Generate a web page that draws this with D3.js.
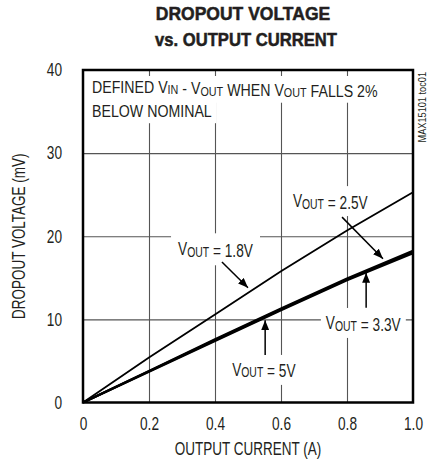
<!DOCTYPE html>
<html>
<head>
<meta charset="utf-8">
<script src="https://cdn.jsdelivr.net/npm/d3@7"></script>
<style>
  body { margin: 0; background: #fff; }
  svg text { font-family: "Liberation Sans", Arial, sans-serif; fill: #231f20; }
  .title { font-weight: bold; font-size: 17.5px; stroke: #231f20; stroke-width: 0.5; }
  .tick text { font-size: 18px; }
  .label { font-size: 18px; }
  .note { font-size: 18.5px; }
  .top { font-size: 16.5px; }
  .grid line { stroke: #555; stroke-width: 1.1; }
  .grid .domain { display: none; }
  .axis .domain { display: none; }
</style>
</head>
<body>
<svg width="427" height="464"></svg>
<script>
// output current (A)
const current = [0, 0.2, 0.4, 0.6, 0.8, 1.0];
// dropout voltage (mV) for each VOUT
const vout18 = [0, 5.4, 10.6, 15.8, 20.7, 25.3];
const vout25 = [0, 3.8, 7.6, 11.3, 14.9, 18.25];
const vout33 = [0, 3.75, 7.5, 11.2, 14.8, 18.1];
const vout5 = [0, 3.7, 7.4, 11.1, 14.7, 17.95];

const xTicks = [0, 0.2, 0.4, 0.6, 0.8, 1.0];
const yTicks = [0, 10, 20, 30, 40];

const svg = d3.select('svg');

const margin = { top: 70, left: 83 };
const width = 330;
const height = 332.5;

// squeeze a text sideways, like a condensed face
function narrow(sel, k) {
  sel.each(function () {
    const t = d3.select(this);
    const x = +t.attr('x') || 0;
    const tr = t.attr('transform') || '';
    t.attr('x', x / k).attr('transform', `${tr} scale(${k},1)`);
  });
}

const chart = svg.append('g')
  .attr('transform', `translate(${margin.left}, ${margin.top})`);

const xScale = d3.scaleLinear().domain([0, 1]).range([0, width]);
const yScale = d3.scaleLinear().domain([0, 40]).range([height, 0]);

// grid lines
chart.append('g')
  .attr('class', 'grid')
  .attr('transform', `translate(0, ${height})`)
  .call(d3.axisBottom(xScale).tickValues(xTicks.slice(1, -1)).tickSize(-height).tickFormat(''));

chart.append('g')
  .attr('class', 'grid')
  .call(d3.axisLeft(yScale).tickValues(yTicks.slice(1, -1)).tickSize(-width).tickFormat(''));

// tick labels
chart.append('g')
  .attr('class', 'axis')
  .attr('transform', `translate(0, ${height})`)
  .call(d3.axisBottom(xScale).tickValues(xTicks).tickSize(0).tickPadding(15)
    .tickFormat((d) => d === 0 ? '0' : d3.format('.1f')(d)))
  .selectAll('text').call(narrow, 0.76);

chart.append('g')
  .attr('class', 'axis')
  .call(d3.axisLeft(yScale).tickValues(yTicks).tickSize(0).tickPadding(21))
  .selectAll('text').call(narrow, 0.76);

// labels with a subscript after V, put over a white box
const boxes = chart.append('g');
const notes = chart.append('g');

function vText(parent, x, y, parts, cls, k) {
  const t = parent.append('text')
    .attr('class', cls)
    .attr('x', x)
    .attr('y', y);
  parts.forEach((p) => {
    if (p.sub) {
      t.append('tspan').attr('font-size', '76%').attr('dy', 1.5).text(p.sub);
      t.append('tspan').attr('dy', -1.5).text('');
    } else {
      t.append('tspan').text(p.t);
    }
  });
  t.call(narrow, k);
  return t;
}

function cover(t, k, padX, padY) {
  const b = t.node().getBBox();
  boxes.append('rect')
    .attr('x', b.x * k - padX)
    .attr('y', b.y - padY)
    .attr('width', b.width * k + 2 * padX)
    .attr('height', b.height + 2 * padY)
    .attr('fill', '#fff');
}

const kTop = 0.86;
const line1 = vText(notes, 9, 23, [
  { t: 'DEFINED V' }, { sub: 'IN' }, { t: ' - V' }, { sub: 'OUT' },
  { t: ' WHEN V' }, { sub: 'OUT' }, { t: ' FALLS 2%' }
], 'top', kTop);
cover(line1, kTop, 4, 2);
const line2 = vText(notes, 9, 47, [{ t: 'BELOW NOMINAL' }], 'top', kTop);
cover(line2, kTop, 4, 3);

const kNote = 0.74;
const n18 = vText(notes, xScale(0.288), yScale(17.7), [{ t: 'V' }, { sub: 'OUT' }, { t: ' = 1.8V' }], 'note', kNote);
cover(n18, kNote, 7, 5);
const n25 = vText(notes, xScale(0.636), yScale(23.5), [{ t: 'V' }, { sub: 'OUT' }, { t: ' = 2.5V' }], 'note', kNote);
cover(n25, kNote, 5, 4);
const n33 = vText(notes, xScale(0.736), yScale(8.84), [{ t: 'V' }, { sub: 'OUT' }, { t: ' = 3.3V' }], 'note', kNote);
cover(n33, kNote, 5, 4);
const n5 = vText(notes, xScale(0.452), yScale(3.19), [{ t: 'V' }, { sub: 'OUT' }, { t: ' = 5V' }], 'note', kNote);
cover(n5, kNote, 5, 4);

// curves
const line = d3.line()
  .x((d, i) => xScale(current[i]))
  .y((d) => yScale(d));

const series = [
  { values: vout18, w: 1.8 },
  { values: vout25, w: 2.3 },
  { values: vout33, w: 2.3 },
  { values: vout5, w: 2.3 }
];

chart.selectAll('.curve')
  .data(series)
  .enter()
  .append('path')
  .attr('class', 'curve')
  .attr('fill', 'none')
  .attr('stroke', '#000')
  .attr('stroke-width', (d) => d.w)
  .attr('d', (d) => line(d.values));

// arrows
svg.append('defs').append('marker')
  .attr('id', 'head')
  .attr('viewBox', '0 0 10 8')
  .attr('refX', 10)
  .attr('refY', 4)
  .attr('markerWidth', 10)
  .attr('markerHeight', 8)
  .attr('markerUnits', 'userSpaceOnUse')
  .attr('orient', 'auto')
  .append('path')
  .attr('d', 'M0,0 L10,4 L0,8 Z')
  .attr('fill', '#000');

const arrows = [
  [0.421, 16.9, 0.5, 13.8],
  [0.785, 22.3, 0.909, 17.3],
  [0.858, 11.4, 0.858, 15.6],
  [0.552, 5.7, 0.552, 9.9]
];

chart.selectAll('.arrow')
  .data(arrows)
  .enter()
  .append('line')
  .attr('class', 'arrow')
  .attr('x1', (d) => xScale(d[0]))
  .attr('y1', (d) => yScale(d[1]))
  .attr('x2', (d) => xScale(d[2]))
  .attr('y2', (d) => yScale(d[3]))
  .attr('stroke', '#000')
  .attr('stroke-width', 1.5)
  .attr('marker-end', 'url(#head)');

// frame
chart.append('rect')
  .attr('width', width)
  .attr('height', height)
  .attr('fill', 'none')
  .attr('stroke', '#000')
  .attr('stroke-width', 2.5);

// axis titles
svg.append('text')
  .attr('class', 'label')
  .attr('x', margin.left + width / 2)
  .attr('y', 455)
  .attr('text-anchor', 'middle')
  .text('OUTPUT CURRENT (A)')
  .call(narrow, 0.75);

svg.append('text')
  .attr('class', 'label')
  .attr('transform', `translate(25, ${margin.top + height / 2}) rotate(-90)`)
  .attr('text-anchor', 'middle')
  .text('DROPOUT VOLTAGE (mV)')
  .call(narrow, 0.75);

// title
svg.append('text')
  .attr('class', 'title')
  .attr('x', 243)
  .attr('y', 20)
  .attr('text-anchor', 'middle')
  .text('DROPOUT VOLTAGE');

svg.append('text')
  .attr('class', 'title')
  .attr('x', 246)
  .attr('y', 46)
  .attr('text-anchor', 'middle')
  .text('vs. OUTPUT CURRENT')
  .call(narrow, 0.95);

svg.append('text')
  .attr('transform', 'translate(426, 72) rotate(-90)')
  .attr('text-anchor', 'end')
  .attr('font-size', 10)
  .text('MAX15101 toc01')
  .call(narrow, 0.92);
</script>
</body>
</html>
